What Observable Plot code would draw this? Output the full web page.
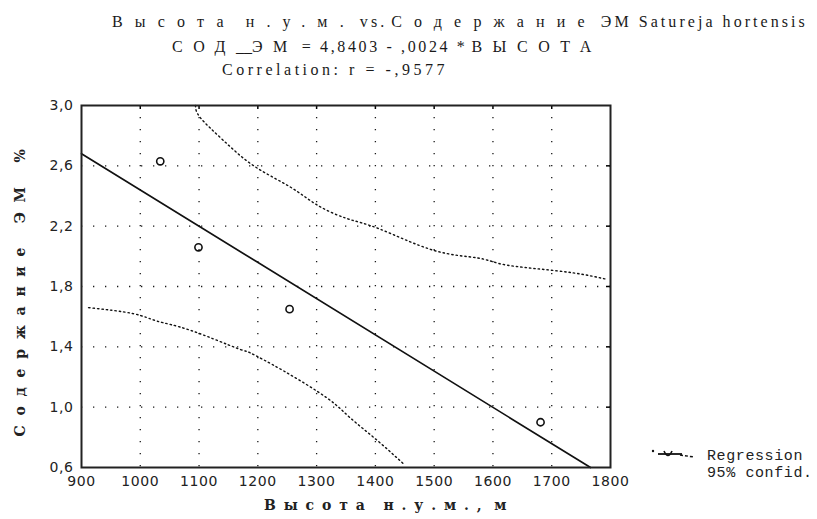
<!DOCTYPE html>
<html><head><meta charset="utf-8">
<script src="https://cdn.jsdelivr.net/npm/d3@7"></script>
<script src="https://cdn.jsdelivr.net/npm/@observablehq/plot@0.6"></script>
<style>
body{margin:0;background:#fff;}
#wrap{position:relative;width:817px;height:519px;overflow:hidden;color:#222;}
#wrap svg{position:absolute;left:0;top:0;}
.t{position:absolute;white-space:nowrap;font-family:"Liberation Serif",serif;font-size:16px;line-height:18px;color:#1a1a1a;}
.ax{position:absolute;white-space:nowrap;font-family:"DejaVu Serif",serif;font-size:14px;font-weight:bold;line-height:16px;color:#222;}
.leg{position:absolute;white-space:nowrap;font-family:"Liberation Mono",monospace;font-size:15px;letter-spacing:0.6px;line-height:16px;color:#222;}
.gap{display:inline-block;width:6px;}
</style></head><body><div id="wrap"></div>
<script>
// ---- data ----
const xTicks = [900, 1000, 1100, 1200, 1300, 1400, 1500, 1600, 1700, 1800];
const yTicks = [0.6, 1.0, 1.4, 1.8, 2.2, 2.6, 3.0];
const yTickLabels = ["0,6", "1,0", "1,4", "1,8", "2,2", "2,6", "3,0"];
const xGrid = [1000, 1100, 1200, 1300, 1400, 1500, 1600, 1700];
const yGrid = [1.0, 1.4, 1.8, 2.2, 2.6];
const obsX = [1034, 1099, 1254, 1681];
const obsY = [2.63, 2.06, 1.65, 0.90];
const regX = [900, 1766];
const regY = [2.68, 0.60];
const upX = [1094, 1102, 1141, 1193, 1255, 1301, 1352, 1408, 1499, 1573, 1613, 1669, 1737, 1791];
const upY = [3.00, 2.92, 2.77, 2.60, 2.46, 2.34, 2.25, 2.18, 2.04, 1.99, 1.95, 1.92, 1.89, 1.85];
const loX = [912, 988, 1029, 1085, 1165, 1187, 1244, 1318, 1357, 1403, 1449];
const loY = [1.66, 1.62, 1.57, 1.51, 1.39, 1.36, 1.24, 1.06, 0.93, 0.78, 0.62];

const obs = obsX.map((x, i) => ({x, y: obsY[i]}));
const reg = regX.map((x, i) => ({x, y: regY[i]}));
const up = upX.map((x, i) => ({x, y: upY[i]}));
const lo = loX.map((x, i) => ({x, y: loY[i]}));
const yLab = new Map(yTicks.map((t, i) => [t, yTickLabels[i]]));

const chart = Plot.plot({
  width: 817, height: 519,
  marginLeft: 81, marginRight: 207, marginTop: 105, marginBottom: 52,
  style: {fontFamily: "DejaVu Sans, sans-serif", fontSize: "14px", color: "#222", background: "transparent", letterSpacing: "0.6px"},
  x: {domain: [900, 1800]},
  y: {domain: [0.6, 3.0]},
  marks: [
    Plot.gridX(xGrid, {stroke: "#000", strokeOpacity: 0.9, strokeWidth: 1.3, strokeDasharray: "1.3,10.7"}),
    Plot.gridY(yGrid, {stroke: "#000", strokeOpacity: 0.9, strokeWidth: 1.3, strokeDasharray: "1.3,10.7"}),
    Plot.axisX(xTicks, {tickSize: 0, tickPadding: 9, label: null, fill: "#222", tickFormat: d => String(d)}),
    Plot.axisY(yTicks, {tickSize: 0, tickPadding: 8, label: null, fill: "#222", tickFormat: d => yLab.get(d)}),
    Plot.axisY(yGrid, {anchor: "right", tickSize: -5, tickFormat: () => "", label: null, stroke: "#000", strokeWidth: 1.5}),
    Plot.axisX(xGrid, {anchor: "top", tickSize: -3, tickFormat: () => "", label: null, stroke: "#000", strokeWidth: 1.5}),
    Plot.line(up, {x: "x", y: "y", curve: "natural", stroke: "#111", strokeWidth: 1.4, strokeDasharray: "1.4,3"}),
    Plot.line(lo, {x: "x", y: "y", curve: "natural", stroke: "#111", strokeWidth: 1.4, strokeDasharray: "1.4,3"}),
    Plot.line(reg, {x: "x", y: "y", stroke: "#111", strokeWidth: 1.7}),
    Plot.dot(obs, {x: "x", y: "y", r: 3.6, stroke: "#111", strokeWidth: 1.6, fill: "none"}),
    Plot.frame({stroke: "#222", strokeWidth: 2})
  ]
});
const wrap = document.getElementById("wrap");
wrap.appendChild(chart);

function addText(html, left, cy, cls) {
  const d = document.createElement("div");
  d.className = cls || "t";
  d.innerHTML = html;
  d.style.left = left + "px";
  d.style.top = (cy - 9) + "px";
  wrap.appendChild(d);
  return d;
}
// spread extra width: Cyrillic spans (.sp) get full share, Latin spans (.sl) a quarter
function fit(el, target) {
  const sp = el.querySelectorAll(".sp"), sl = el.querySelectorAll(".sl");
  let n = 0;
  sp.forEach(s => { n += s.textContent.length; s.style.letterSpacing = "0px"; });
  sl.forEach(s => { n += 0.25 * s.textContent.length; s.style.letterSpacing = "0px"; });
  const w = el.offsetWidth;
  const ls = Math.max(0, (target - w) / n);
  sp.forEach(s => s.style.letterSpacing = ls + "px");
  sl.forEach(s => s.style.letterSpacing = (0.25 * ls) + "px");
}
const l1 = addText('<span class="sp">Высота</span><span class="gap"></span> <span class="sp">н.у.м.</span> <span class="sl">vs.</span> <span class="sp">Содержание</span> <span class="sl">ЭМ Satureja hortensis</span>', 112, 22);
fit(l1, 696);
const l2 = addText('<span class="sp">СОД</span>__<span class="sp">ЭМ</span> <span class="sl">= 4,8403 - ,0024 *</span> <span class="sp">ВЫСОТА</span>', 172, 47);
fit(l2, 430);
const l3 = addText('<span class="sl">Correlation: r = -,9577</span>', 222, 70);
fit(l3, 226);
const xt = addText('<span class="sp">Высота</span><span class="gap"></span> <span class="sp">н.у.м.,</span> <span class="sp">м</span>', 264, 506, "ax");
fit(xt, 250);

// rotated y title
const yt = document.createElement("div");
yt.className = "ax";
yt.innerHTML = '<span class="sp">Содержание ЭМ %</span>';
yt.style.left = "0px"; yt.style.top = "0px";
wrap.appendChild(yt);
fit(yt, 297);
const w = yt.offsetWidth, h = yt.offsetHeight;
yt.style.left = (20 - w / 2) + "px";
yt.style.top = (288 - h / 2) + "px";
yt.style.transform = "rotate(-90deg)";

// legend
const sym = document.createElementNS("http://www.w3.org/2000/svg", "svg");
sym.setAttribute("width", 50); sym.setAttribute("height", 16);
sym.style.position = "absolute"; sym.style.left = "648px"; sym.style.top = "446px";
sym.innerHTML = '<circle cx="5" cy="5" r="1.2" fill="#111"/>' +
  '<line x1="10" y1="8" x2="34" y2="8" stroke="#111" stroke-width="1.8"/>' +
  '<path d="M16 5 Q20 14 24 5" fill="none" stroke="#111" stroke-width="1.6"/>' +
  '<line x1="32" y1="9" x2="46" y2="11" stroke="#111" stroke-width="1.5" stroke-dasharray="3,2"/>';
wrap.appendChild(sym);
addText("Regression", 707, 458, "leg");
addText("95% confid.", 707, 475, "leg");
</script></body></html>
